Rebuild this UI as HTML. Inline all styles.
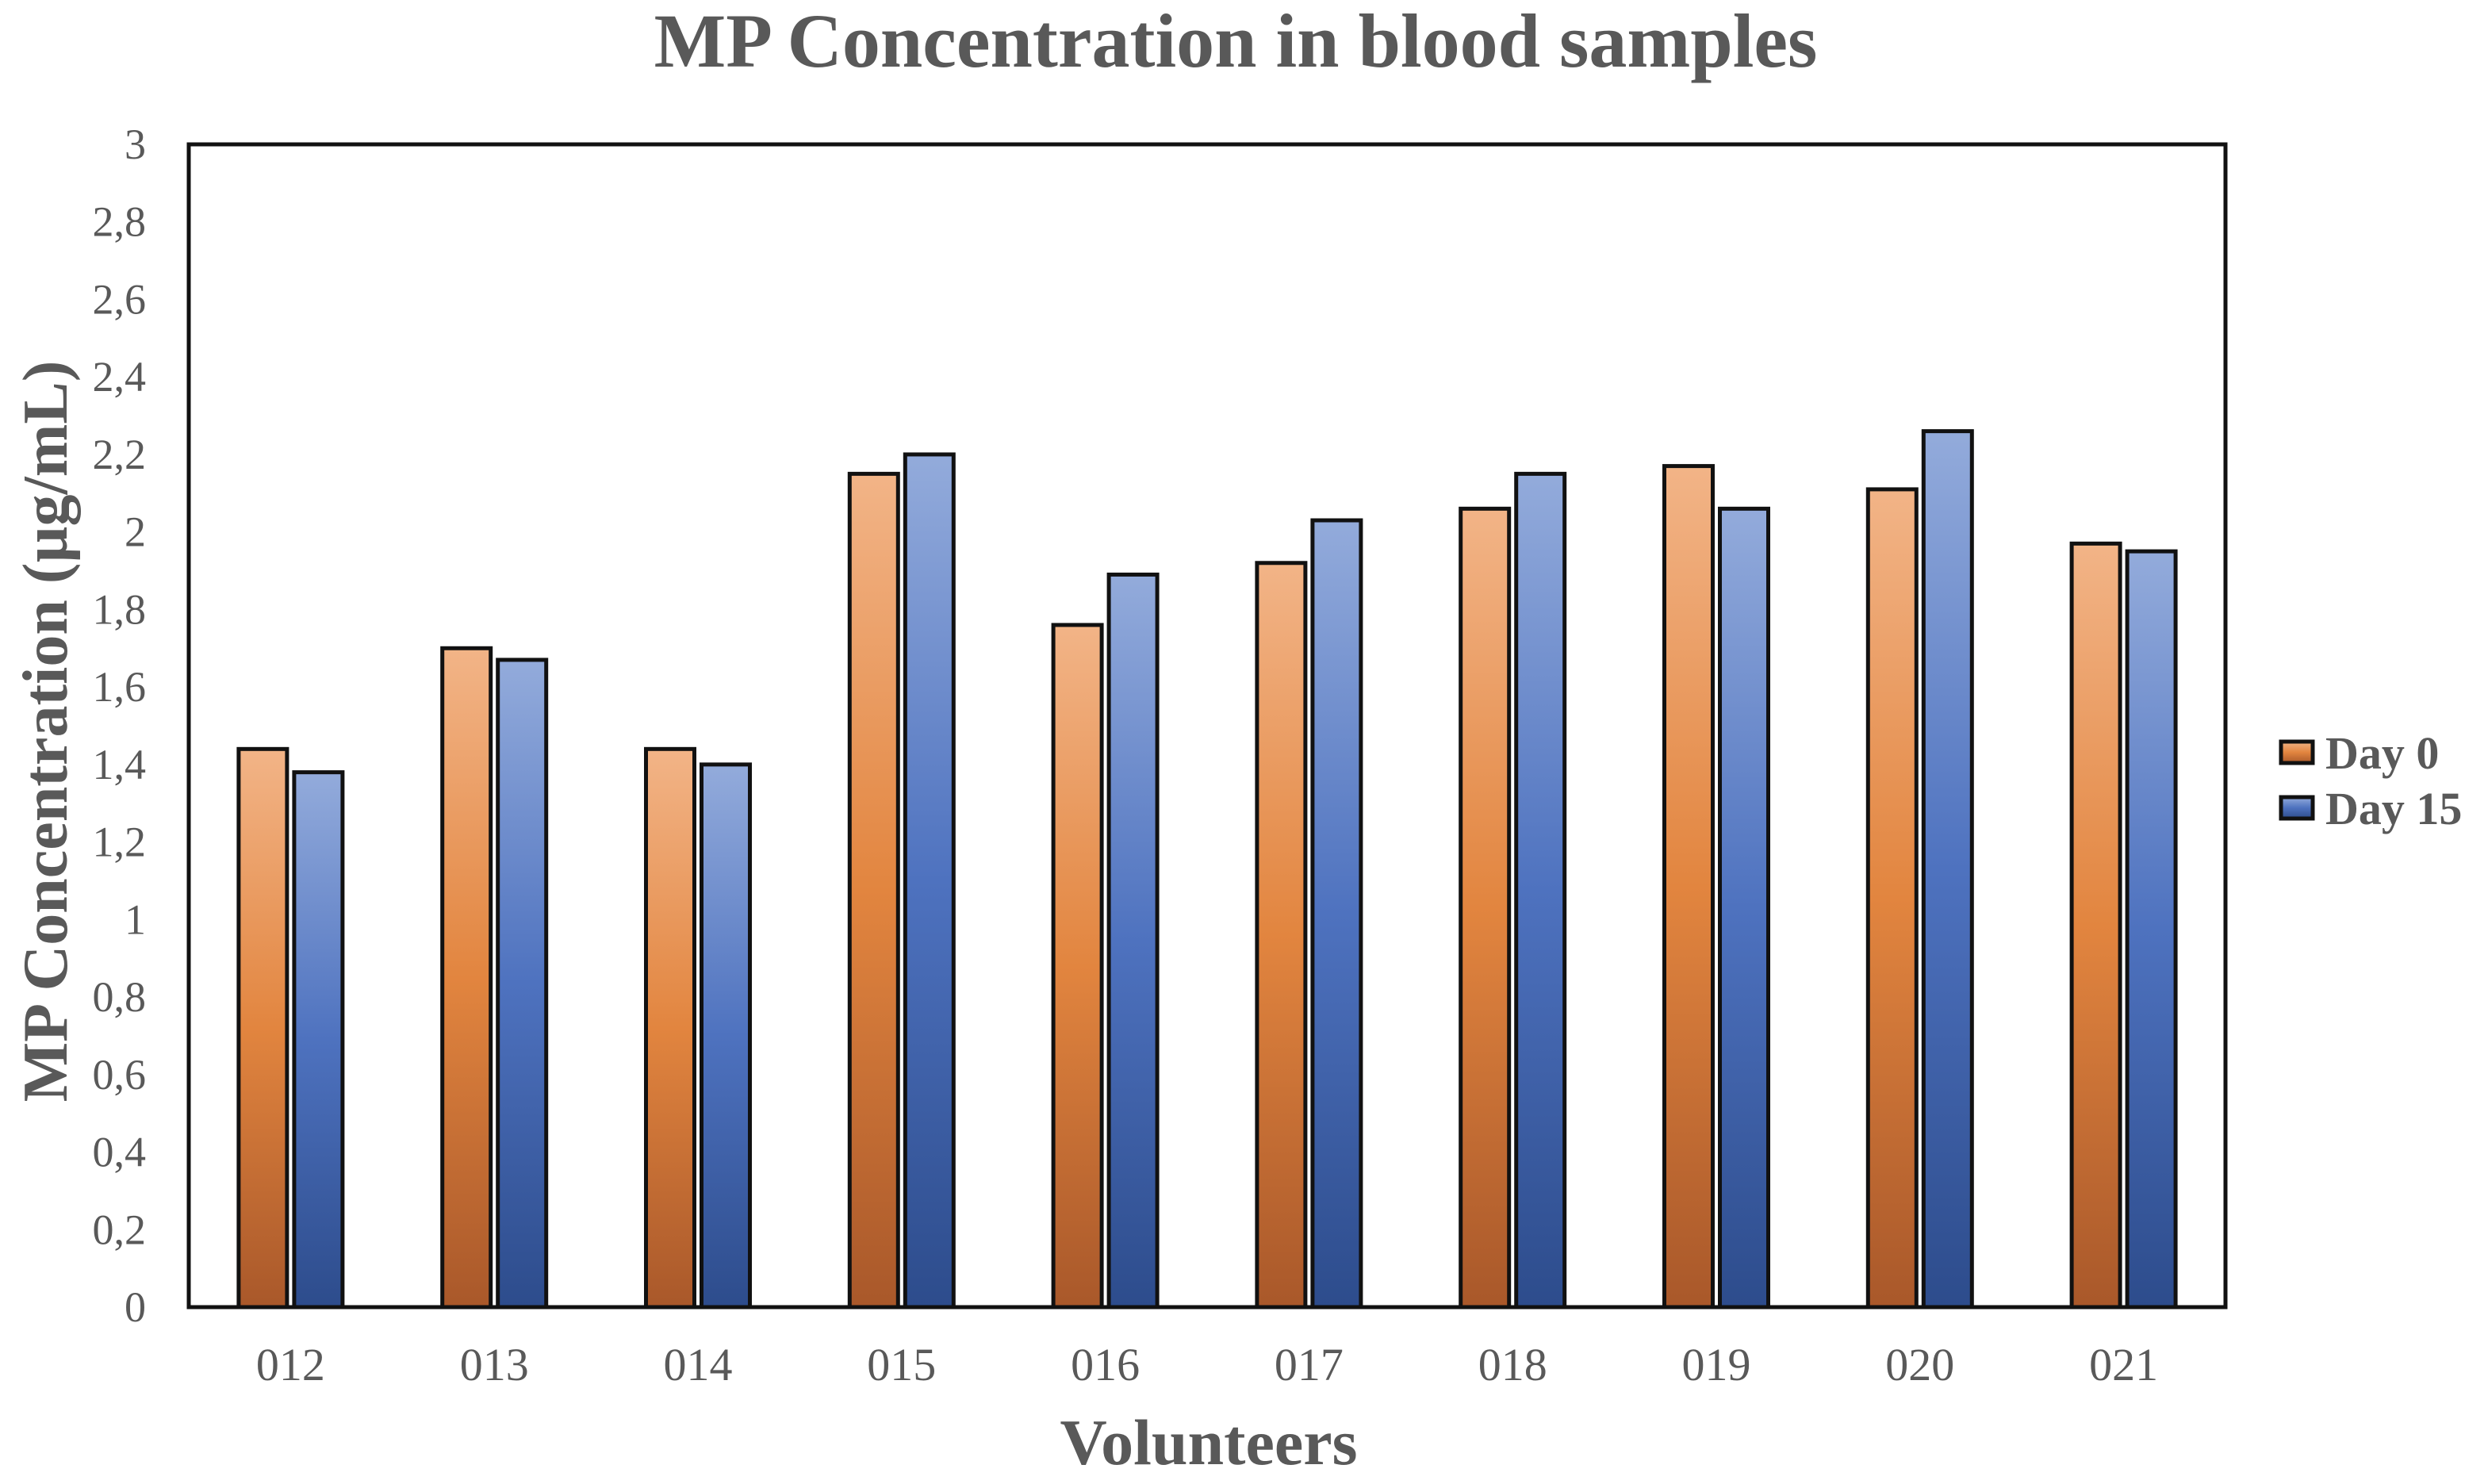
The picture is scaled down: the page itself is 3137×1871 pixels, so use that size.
<!DOCTYPE html>
<html><head><meta charset="utf-8"><style>
html,body{margin:0;padding:0;background:#fff;}
svg{display:block;}
text{font-family:"Liberation Serif",serif;fill:#595959;}
</style></head><body>
<svg id="chart" width="3137" height="1871" viewBox="0 0 3137 1871" xmlns="http://www.w3.org/2000/svg">
<defs>
<linearGradient id="gOrange" x1="0" y1="0" x2="0" y2="1">
<stop offset="0" stop-color="#f2b487"/><stop offset="0.5" stop-color="#e2853f"/><stop offset="1" stop-color="#a9582a"/>
</linearGradient>
<linearGradient id="gBlue" x1="0" y1="0" x2="0" y2="1">
<stop offset="0" stop-color="#93abdb"/><stop offset="0.5" stop-color="#4e72bf"/><stop offset="1" stop-color="#2d4c8c"/>
</linearGradient>
</defs>
<text x="1558" y="84" text-anchor="middle" font-size="96" font-weight="bold">MP Concentration in blood samples</text>
<g id="plot"></g>
<text transform="translate(84,922) rotate(-90)" text-anchor="middle" font-size="80" font-weight="bold">MP Concentration  (µg/mL)</text>
<text x="1524" y="1846" text-anchor="middle" font-size="82" font-weight="bold">Volunteers</text>
<g>
<rect x="2876" y="935" width="40" height="27" fill="url(#gOrange)" stroke="#111" stroke-width="5"/>
<text x="2932" y="969" font-size="58" font-weight="bold">Day 0</text>
<rect x="2876" y="1005" width="40" height="27" fill="url(#gBlue)" stroke="#111" stroke-width="5"/>
<text x="2932" y="1039" font-size="58" font-weight="bold">Day 15</text>
</g>
</svg>
<script>
const categories = ["012","013","014","015","016","017","018","019","020","021"];
const day0 = [1.44,1.70,1.44,2.15,1.76,1.92,2.06,2.17,2.11,1.97];
const day15 = [1.38,1.67,1.40,2.20,1.89,2.03,2.15,2.06,2.26,1.95];
const yTicks = [0,0.2,0.4,0.6,0.8,1,1.2,1.4,1.6,1.8,2,2.2,2.4,2.6,2.8,3];
const yTickLabels = ["0","0,2","0,4","0,6","0,8","1","1,2","1,4","1,6","1,8","2","2,2","2,4","2,6","2,8","3"];

const L=238,R=2806,T=182,B=1648,yMax=3;
const NS="http://www.w3.org/2000/svg";
const g=document.getElementById('plot');
function y(v){return B-(v/yMax)*(B-T);}
function xc(i){return L+(i+0.5)*(R-L)/categories.length;}
function mk(tag,attrs){const e=document.createElementNS(NS,tag);for(const k in attrs)e.setAttribute(k,attrs[k]);g.appendChild(e);return e;}

yTicks.forEach((t,i)=>{
  const e=mk('text',{x:184,y:y(t)+18,'text-anchor':'end','font-size':54});
  e.textContent=yTickLabels[i];
  
  
});
const bw=61,gap=9;
categories.forEach((c,i)=>{
  const cx=xc(i);
  const b0=mk('rect',{x:cx-gap/2-bw,y:y(day0[i]),width:bw,height:B-y(day0[i]),fill:'url(#gOrange)',stroke:'#111','stroke-width':5});
  
  
  const b1=mk('rect',{x:cx+gap/2,y:y(day15[i]),width:bw,height:B-y(day15[i]),fill:'url(#gBlue)',stroke:'#111','stroke-width':5});
  
  
  const t=mk('text',{x:cx,y:1740,'text-anchor':'middle','font-size':58});
  t.textContent=c;
  
  
});
const f=mk('rect',{x:L,y:T,width:R-L,height:B-T,fill:'none',stroke:'#111','stroke-width':5});


</script>
</body></html>
